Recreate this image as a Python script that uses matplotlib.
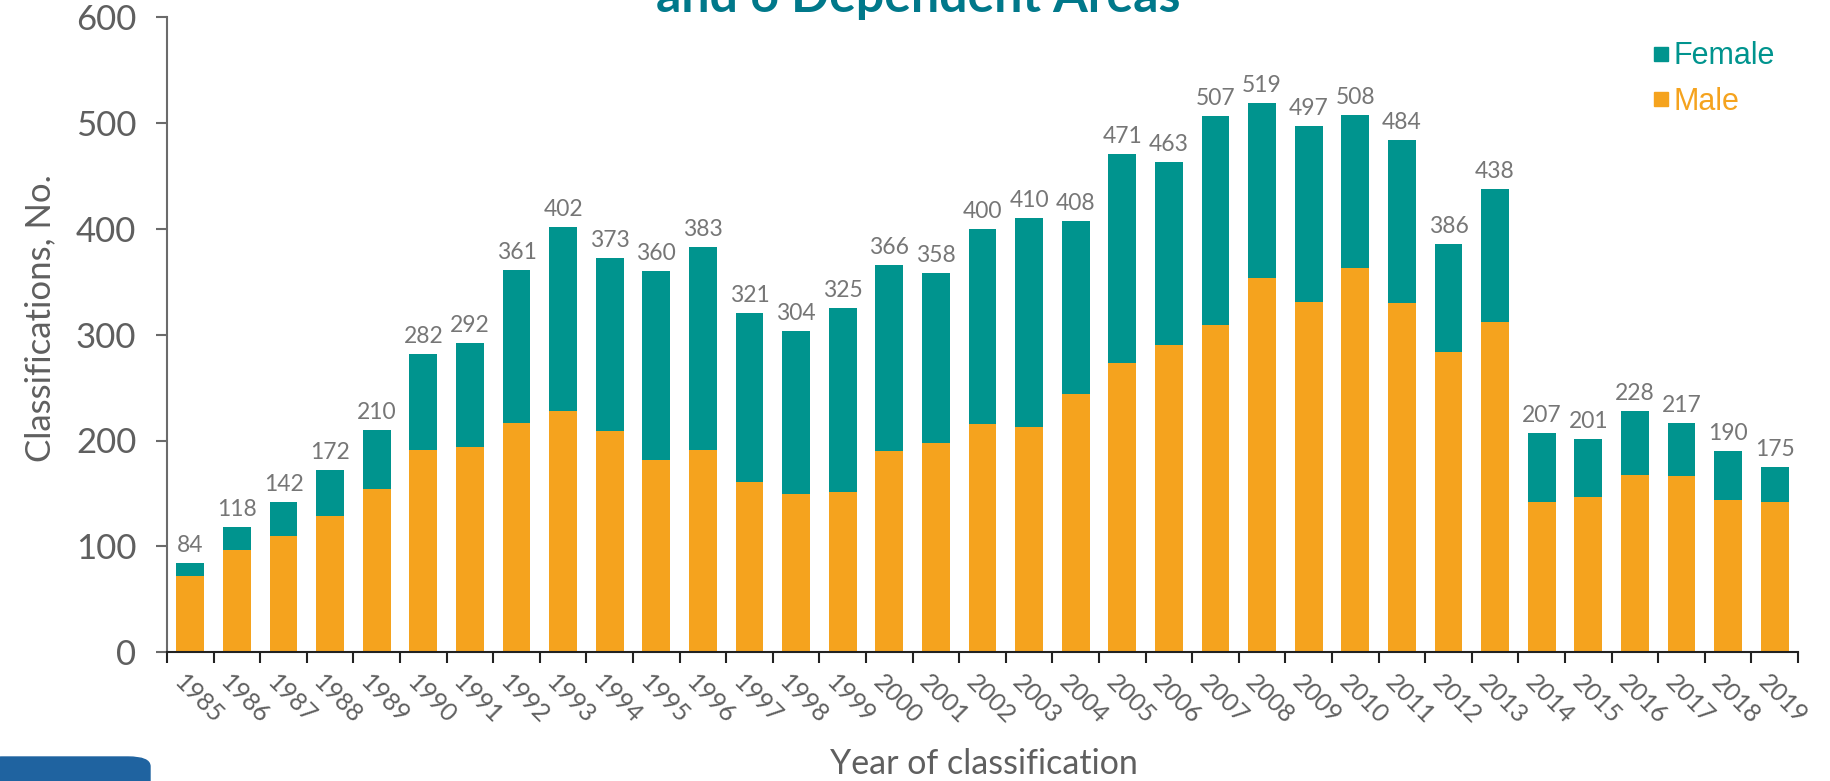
import matplotlib.pyplot as plt
from matplotlib.lines import Line2D
from matplotlib.patches import FancyBboxPatch
from matplotlib.transforms import ScaledTranslation
import numpy as np

# Données
annees = list(range(1985, 2020))
total = [84, 118, 142, 172, 210, 282, 292, 361, 402, 373, 360, 383, 321, 304, 325,
         366, 358, 400, 410, 408, 471, 463, 507, 519, 497, 508, 484, 386, 438,
         207, 201, 228, 217, 190, 175]
male = [72, 96, 110, 129, 154, 191, 194, 217, 228, 209, 182, 191, 161, 149, 151,
        190, 198, 216, 213, 244, 273, 290, 309, 354, 331, 363, 330, 284, 312,
        142, 147, 167, 166, 144, 142]
female = [t - m for t, m in zip(total, male)]

teal = '#00948E'
orange = '#F5A31E'
gris = '#5F5F5F'

fig = plt.figure(figsize=(18.31, 7.81), dpi=100)
ax = fig.add_axes([167/1831, 1 - 652/781, (1798 - 167)/1831, (652 - 17.5)/781])

x = np.arange(len(annees))
ax.bar(x, male, width=0.6, color=orange)
ax.bar(x, female, width=0.6, bottom=male, color=teal)

for xi, t in zip(x, total):
    ax.annotate(str(t), (xi, t), xytext=(0, 5), textcoords='offset points',
                ha='center', va='bottom', fontsize=16.5, color='#767676', family='Lato')

ax.set_xlim(-0.5, len(annees) - 0.5)
ax.set_ylim(0, 600)
ax.set_yticks([0, 100, 200, 300, 400, 500, 600])

# graduations aux limites des catégories, étiquettes au centre
ax.set_xticks(np.arange(-0.5, len(annees), 1))
ax.set_xticklabels([])
ax.tick_params(axis='x', which='major', direction='out', length=8, width=1.5, color='#222222')
ax.set_xticks(x, minor=True)
ax.set_xticklabels([str(a) for a in annees], minor=True, rotation=-45,
                   ha='left', va='center', rotation_mode='anchor', fontsize=18,
                   color=gris, family='Lato')
ax.tick_params(axis='x', which='minor', length=0, pad=19)
decalage = ScaledTranslation(-9/72, 0, fig.dpi_scale_trans)
for lab in ax.get_xticklabels(minor=True):
    lab.set_transform(lab.get_transform() + decalage)
ax.tick_params(axis='y', direction='out', length=8, width=1.5, color='#6b6b6b',
               labelsize=25, labelcolor=gris, pad=14)
for lab in ax.get_yticklabels():
    lab.set_family('Lato')

for s in ['top', 'right']:
    ax.spines[s].set_visible(False)
ax.spines['left'].set_color('#6b6b6b')
ax.spines['left'].set_linewidth(1.5)
ax.spines['bottom'].set_color('#222222')
ax.spines['bottom'].set_linewidth(1.5)

fig.text(40/1831, 1 - 318/781, 'Classifications, No.', rotation=90, ha='center',
         va='center', fontsize=25, color=gris, family='Lato')
fig.text(984/1831, 1 - 764/781, 'Year of classification', ha='center', va='center',
         fontsize=24.5, color=gris, family='Lato')

# titre coupé en haut
fig.text(918/1831, 1 - 12/781, 'and 6 Dependent Areas', ha='center', va='baseline',
         fontsize=36, color='#00788A', fontweight='bold', family='Lato')

handles = [Line2D([], [], marker='s', linestyle='', color=teal, markersize=10),
           Line2D([], [], marker='s', linestyle='', color=orange, markersize=10)]
leg = fig.legend(handles, ['Female', 'Male'], loc='upper left',
                 bbox_to_anchor=(1637/1831, 1 - 26/781), frameon=False,
                 prop={'family': 'Liberation Sans', 'size': 22},
                 handlelength=0.6, handletextpad=0.1, labelspacing=0.5, borderpad=0)
for txt, c in zip(leg.get_texts(), [teal, orange]):
    txt.set_color(c)

# logo coupé en bas à gauche
fig.patches.append(FancyBboxPatch((-20/1831, -20/781), 170/1831, 44/781,
                                  boxstyle='round,pad=0,rounding_size=0.012',
                                  transform=fig.transFigure, color='#1F63A0'))

fig.savefig('out.png', dpi=100)
